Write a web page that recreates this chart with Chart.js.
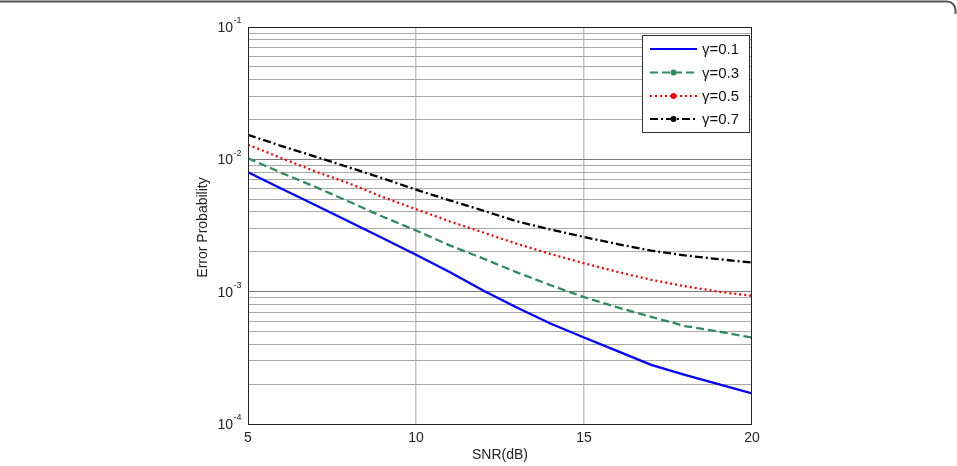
<!DOCTYPE html>
<html>
<head>
<meta charset="utf-8">
<script src="https://cdn.jsdelivr.net/npm/chart.js@4"></script>
<style>
  html, body { margin: 0; padding: 0; background: #fff; }
  #wrap { width: 957px; height: 466px; position: relative; }
</style>
</head>
<body>
<div id="wrap"><canvas id="grafico-errore" width="957" height="466"></canvas></div>
<script>
// dati
const snr = [5, 6, 7, 8, 9, 10, 11, 12, 13, 14, 15, 16, 17, 18, 19, 20];
const gamma01 = [0.0080, 0.0060, 0.00452, 0.00339, 0.00254, 0.0019, 0.00141, 0.00102, 0.00076, 0.000575, 0.00045, 0.000355, 0.00028, 0.000235, 0.0002, 0.00017];
const gamma03 = [0.0102, 0.0079, 0.0062, 0.0048, 0.0037, 0.0029, 0.00224, 0.00178, 0.0014, 0.00112, 0.00091, 0.00076, 0.000645, 0.00055, 0.0005, 0.00045];
const gamma05 = [0.0129, 0.0102, 0.0081, 0.0066, 0.0052, 0.0042, 0.0034, 0.0028, 0.0023, 0.00193, 0.00164, 0.00141, 0.00123, 0.0011, 0.001, 0.00093];
const gamma07 = [0.0153, 0.0126, 0.0105, 0.0087, 0.0072, 0.0059, 0.0049, 0.0041, 0.0034, 0.00295, 0.00259, 0.00229, 0.00204, 0.00188, 0.00176, 0.00166];
const seriesLabels = ['\u03b3=0.1', '\u03b3=0.3', '\u03b3=0.5', '\u03b3=0.7'];
const xTicks = [5, 10, 15, 20];
const yExponents = [-1, -2, -3, -4];
const xTitle = 'SNR(dB)';
const yTitle = 'Error Probability';

const FONT = '"Liberation Sans", Arial, sans-serif';

function toPoints(values) {
  return snr.map((x, i) => ({ x: x, y: values[i] }));
}

// tutte le linee della griglia log (1..9 x 10^k)
const minorTicks = [];
for (let e = -4; e < -1; e++) {
  for (let m = 1; m < 10; m++) minorTicks.push(m * Math.pow(10, e));
}
minorTicks.push(0.1);

const styles = [
  { color: '#0000ff', dash: [], marker: false },
  { color: '#2e8b5e', dash: [8, 4], marker: true },
  { color: '#ff0000', dash: [2, 3], marker: true },
  { color: '#000000', dash: [8, 3, 2, 3], marker: true }
];
const allSeries = [gamma01, gamma03, gamma05, gamma07];

const decor = {
  id: 'decor',
  afterDraw(chart) {
    const ctx = chart.ctx;
    const a = chart.chartArea;
    const xs = chart.scales.x;
    const ys = chart.scales.y;
    ctx.save();

    // cornice esterna
    ctx.strokeStyle = '#555';
    ctx.lineWidth = 2;
    ctx.beginPath();
    ctx.moveTo(0, 1.5);
    ctx.lineTo(947, 1.5);
    ctx.arcTo(955.5, 1.5, 955.5, 10, 8.5);
    ctx.lineTo(955.5, 14);
    ctx.stroke();

    // bordo del grafico
    ctx.strokeStyle = '#222';
    ctx.lineWidth = 1;
    ctx.strokeRect(a.left + 0.5, a.top + 0.5, a.right - a.left - 1, a.bottom - a.top);

    // etichette asse y
    ctx.fillStyle = '#222';
    yExponents.forEach(e => {
      const y = ys.getPixelForValue(Math.pow(10, e));
      ctx.font = '14px ' + FONT;
      ctx.textAlign = 'right';
      ctx.textBaseline = 'middle';
      ctx.fillText('10', 233, y + 1);
      ctx.font = '9px ' + FONT;
      ctx.textAlign = 'left';
      ctx.fillText(String(e), 233.5, y - 6);
    });

    // etichette asse x
    ctx.font = '14px ' + FONT;
    ctx.textAlign = 'center';
    ctx.textBaseline = 'middle';
    xTicks.forEach(v => {
      ctx.fillText(String(v), xs.getPixelForValue(v), 438);
    });

    // titoli
    ctx.fillText(xTitle, (a.left + a.right) / 2, 455);
    ctx.save();
    ctx.translate(203, (a.top + a.bottom) / 2 + 2);
    ctx.rotate(-Math.PI / 2);
    ctx.fillText(yTitle, 0, 0);
    ctx.restore();

    // legenda
    const bx = 642, by = 35, bw = 107, bh = 97;
    ctx.fillStyle = '#fff';
    ctx.fillRect(bx, by, bw, bh);
    ctx.strokeStyle = '#333';
    ctx.strokeRect(bx + 0.5, by + 0.5, bw, bh);
    const rows = [49, 72.5, 96, 119];
    seriesLabels.forEach((lab, i) => {
      const st = styles[i];
      const y = rows[i];
      ctx.strokeStyle = st.color;
      ctx.lineWidth = 2;
      ctx.setLineDash(st.dash);
      ctx.beginPath();
      ctx.moveTo(650, y);
      ctx.lineTo(697, y);
      ctx.stroke();
      ctx.setLineDash([]);
      if (st.marker) {
        ctx.fillStyle = st.color;
        ctx.beginPath();
        ctx.arc(673.5, y, 3, 0, Math.PI * 2);
        ctx.fill();
      }
      ctx.fillStyle = '#111';
      ctx.font = '15px ' + FONT;
      ctx.textAlign = 'left';
      ctx.textBaseline = 'middle';
      ctx.fillText(lab, 702, y + 1);
    });

    ctx.restore();
  }
};

const ctx = document.getElementById('grafico-errore').getContext('2d');
new Chart(ctx, {
  type: 'line',
  data: {
    datasets: allSeries.map((vals, i) => ({
      label: seriesLabels[i],
      data: toPoints(vals),
      borderColor: styles[i].color,
      borderDash: styles[i].dash,
      borderWidth: 2.3,
      pointRadius: 0,
      tension: 0,
      fill: false
    }))
  },
  options: {
    responsive: false,
    animation: false,
    layout: { padding: { left: 248, right: 205, top: 27, bottom: 42 } },
    plugins: { legend: { display: false }, tooltip: { enabled: false } },
    scales: {
      x: {
        type: 'linear',
        min: 5,
        max: 20,
        afterBuildTicks: s => { s.ticks = xTicks.map(v => ({ value: v })); },
        afterFit: s => { s.height = 0; },
        ticks: { display: false },
        border: { display: false },
        grid: {
          color: c => (c.tick && (c.tick.value === 5 || c.tick.value === 20)) ? 'rgba(0,0,0,0)' : '#c4c4c4',
          lineWidth: 1.5,
          drawTicks: false
        }
      },
      y: {
        type: 'logarithmic',
        min: 1e-4,
        max: 1e-1,
        afterBuildTicks: s => { s.ticks = minorTicks.map(v => ({ value: v })); },
        afterFit: s => { s.width = 0; },
        ticks: { display: false },
        border: { display: false },
        grid: {
          color: c => {
            const v = c.tick ? c.tick.value : 0;
            const lg = Math.log10(v);
            return Math.abs(lg - Math.round(lg)) < 1e-6 ? '#7a7a7a' : '#a8a8a8';
          },
          lineWidth: 1,
          drawTicks: false
        }
      }
    }
  },
  plugins: [decor]
});
</script>
</body>
</html>
